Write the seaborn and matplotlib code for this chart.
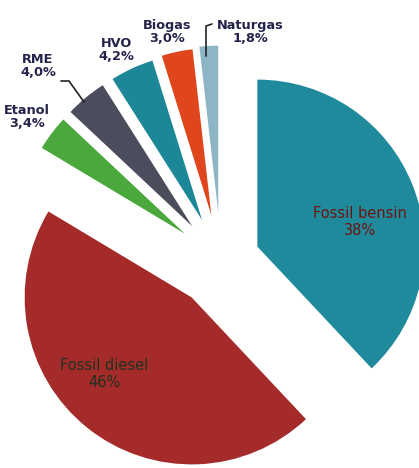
import matplotlib
matplotlib.use("Agg")
import matplotlib.pyplot as plt
import seaborn as sns

# ---- data ----
categories = ["Fossil bensin", "Fossil diesel", "Etanol", "RME", "HVO", "Biogas", "Naturgas"]
values = [38.0, 45.6, 3.4, 4.0, 4.2, 3.0, 1.8]
value_labels = ["38%", "46%", "3,4%", "4,0%", "4,2%", "3,0%", "1,8%"]

# ---- style ----
sns.set_theme(style="white")
plt.rcParams['font.family'] = ['DejaVu Sans']
colors = sns.color_palette(["#1f8a9c", "#a52a2a", "#4aa83c", "#4b4c5c",
                            "#1b8797", "#e0461e", "#8db5c6"])
explode = [0.234, 0.28, 0.27, 0.27, 0.27, 0.28, 0.29]

W, H = 419, 468
fig = plt.figure(figsize=(W / 100, H / 100), dpi=100)
ax = fig.add_axes([0, 0, 1, 1])

R = 167.0
cx, cy = 221.0, 261.0
ax.pie(values, colors=colors, explode=explode, startangle=90,
       counterclock=False, radius=1.0,
       wedgeprops=dict(linewidth=0))
ax.set_xlim(-cx / R, (W - cx) / R)
ax.set_ylim(-(H - cy) / R, cy / R)
ax.set_aspect('auto')
ax.axis('off')


def pa(x, y):
    return x / W, 1 - y / H


# labels for small slices (bold, dark navy)
small_pos = {
    "Etanol": (27, 117),
    "RME": (38, 66),
    "HVO": (116, 50),
    "Biogas": (167, 32),
    "Naturgas": (250, 32),
}
lab_color = "#24244a"
for name, val in zip(categories, value_labels):
    if name in small_pos:
        x, y = small_pos[name]
        ax.text(*pa(x, y), f"{name}\n{val}", transform=ax.transAxes,
                ha="center", va="center", fontsize=9.3, fontweight="bold",
                color=lab_color, linespacing=1.0)

# big slice labels
ax.text(*pa(360, 222), f"{categories[0]}\n{value_labels[0]}", transform=ax.transAxes,
        ha="center", va="center", fontsize=10.5, color="#6e1410", linespacing=1.1)
ax.text(*pa(104, 374), f"{categories[1]}\n{value_labels[1]}", transform=ax.transAxes,
        ha="center", va="center", fontsize=10.5, color="#1d3320", linespacing=1.1)

# leader lines
x1, y1 = pa(61, 81)
x2, y2 = pa(69, 81)
x3, y3 = pa(84, 102)
ax.plot([x1, x2, x3], [y1, y2, y3], transform=ax.transAxes, color="#222222", lw=1.2)
n1 = pa(212, 24)
n2 = pa(206, 26)
n3 = pa(206, 56)
ax.plot([n1[0], n2[0], n3[0]], [n1[1], n2[1], n3[1]], transform=ax.transAxes,
        color="#222222", lw=1.2)

fig.savefig("out.png", dpi=100, facecolor="white")
